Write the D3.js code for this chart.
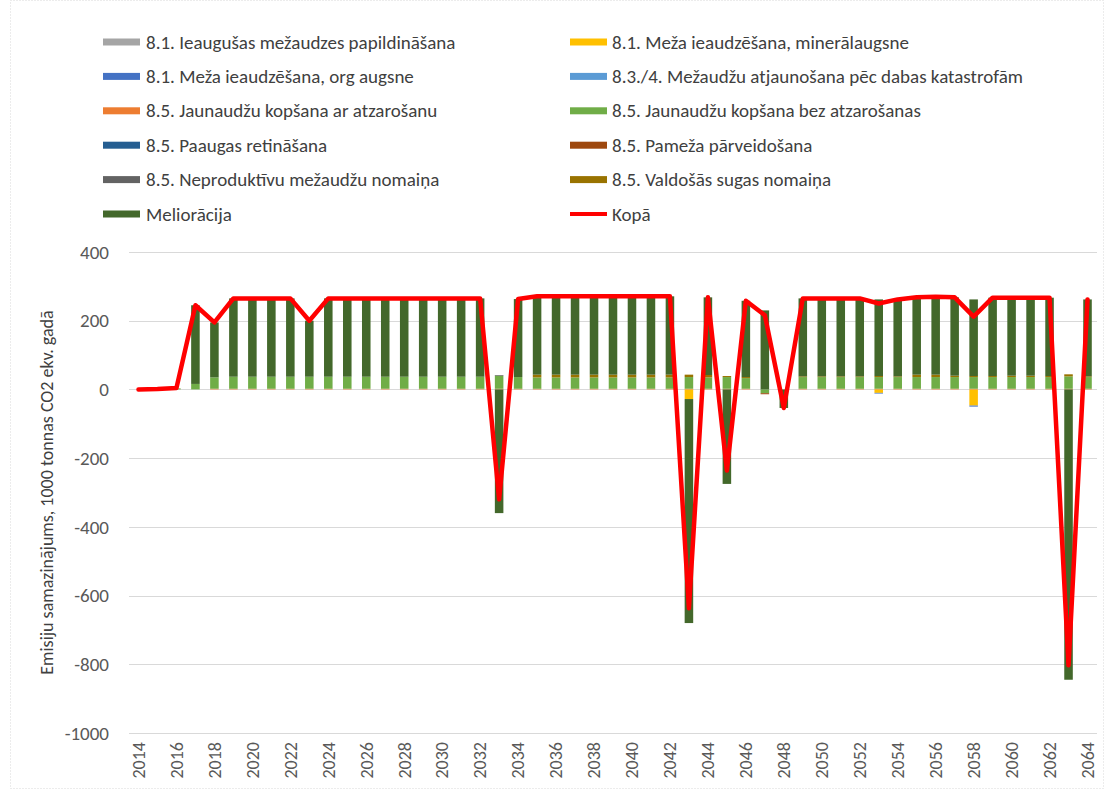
<!DOCTYPE html>
<html>
<head>
<meta charset="utf-8">
<script src="https://cdn.jsdelivr.net/npm/d3@7"></script>
<style>
  body { margin: 0; background: #fff; }
  text { font-family: Carlito, "Liberation Sans", Arial, sans-serif; }
</style>
</head>
<body>
<div id="chart"></div>
<script>
// years 2014..2064
const years = d3.range(2014, 2065).map(String);

const seriesNames = [
  '8.1. Ieaugušas mežaudzes papildināšana',
  '8.1. Meža ieaudzēšana, minerālaugsne',
  '8.1. Meža ieaudzēšana, org augsne',
  '8.3./4. Mežaudžu atjaunošana pēc dabas katastrofām',
  '8.5. Jaunaudžu kopšana ar atzarošanu',
  '8.5. Jaunaudžu kopšana bez atzarošanas',
  '8.5. Paaugas retināšana',
  '8.5. Pameža pārveidošana',
  '8.5. Neproduktīvu mežaudžu nomaiņa',
  '8.5. Valdošās sugas nomaiņa',
  'Meliorācija'
];
const seriesColors = ['#A5A5A5', '#FFC000', '#4472C4', '#5B9BD5', '#ED7D31', '#70AD47',
  '#255E91', '#9E480E', '#636363', '#997300', '#43682B'];
const lineName = 'Kopā';

//                 2014 ...                                                                       2064
const ieaugusas   = [0,0,0,0,0,0,0,0,0,0, 0,0,0,0,0,0,0,0,0,0, 0,0,0,0,0,0,0,0,0,0, 0,0,0,0,0,0,0,0,0,0, 0,0,0,0,0,0,0,0,0,0, 0];
const mineral     = [0,0,0,0,0,0,0,0,0,0, 0,0,0,0,0,0,0,0,0,0, 0,0,0,0,0,0,0,0,0,-28, 0,0,0,0,0,0,0,0,0,-10, 0,0,0,0,-47,0,0,0,0,0, 0];
const orgAugsne   = [0,0,0,0,0,0,0,0,0,0, 0,0,0,0,0,0,0,0,0,0, 0,0,0,0,0,0,0,0,0,0, 0,0,0,0,0,0,0,0,0,-2, 0,0,0,0,-3,0,0,0,0,0, 0];
const atjaunosana = [0,0,0,0,0,0,0,0,0,0, 0,0,0,0,0,0,0,0,0,0, 0,0,0,0,0,0,0,0,0,0, 0,0,0,0,0,0,0,0,0,0, 0,0,0,0,0,0,0,0,0,0, 0];
const arAtzar     = [0,0,0,0,2,2,2,2,2,2, 2,2,2,2,2,2,2,2,2,2, 2,2,2,2,2,2,2,2,2,2, 2,2,2,0,0,2,2,2,2,2, 2,2,2,2,2,2,2,2,2,2, 2];
const bezAtzar    = [0,1,3,16,33,35,35,35,35,35, 35,35,35,35,35,35,35,35,35,38, 34,33,33,33,33,33,33,33,33,34, 33,34,31,-11,0,34,34,34,34,34, 34,34,34,34,34,34,34,34,34,36, 34];
const paaugas     = [0,0,0,0,0,0,0,0,0,0, 0,0,0,0,0,0,0,0,0,0, 0,0,0,0,0,0,0,0,0,0, 0,0,0,0,0,0,0,0,0,0, 0,0,0,0,0,0,0,0,0,0, 0];
const pameza      = [0,0,0,0,0,0,0,0,0,0, 0,0,0,0,0,0,0,0,0,0, 0,0,0,0,0,0,0,0,0,0, 0,0,0,-3,0,0,0,0,0,0, 0,0,0,0,0,0,0,0,0,0, 0];
const neprod      = [0,0,0,0,0,0,0,0,0,0, 0,0,0,0,0,0,0,0,0,2, 0,0,0,0,0,0,0,0,0,0, 0,0,0,0,0,0,0,0,0,0, 0,0,0,0,0,0,0,0,0,0, 0];
const valdosas    = [0,0,0,0,0,0,0,0,0,0, 0,0,0,0,0,0,0,0,0,0, 0,8,8,8,8,8,8,8,8,7, 7,3,3,0,0,2,2,2,2,3, 2,7,7,4,3,3,4,4,3,6, 2];
const melioracija = [0,0,0,229,160,228,228,228,228,163, 228,228,228,228,228,228,228,228,228,-360, 227,228,228,228,228,228,228,228,228,-652, 226,-275,222,230,-54,227,227,227,227,223, 224,225,227,228,223,228,227,227,228,-845, 224];
const kopa        = [0,1,4,245,195,265,265,265,265,200, 265,265,265,265,265,265,265,265,265,-320, 263,271,271,271,271,271,271,271,271,-637, 268,-236,258,216,-54,265,265,265,265,250, 262,268,270,268,212,267,267,267,267,-803, 262];

const yTicks = [400, 200, 0, -200, -400, -600, -800, -1000];
const yTitle = 'Emisiju samazinājums, 1000 tonnas CO2 ekv. gadā';

const seriesValues = [ieaugusas, mineral, orgAugsne, atjaunosana, arAtzar, bezAtzar,
  paaugas, pameza, neprod, valdosas, melioracija];

const width = 1104, height = 789;
const svg = d3.select('#chart').append('svg')
  .attr('width', width)
  .attr('height', height);

// chart border
svg.append('rect')
  .attr('x', 10.5).attr('y', 0.5)
  .attr('width', width - 11).attr('height', height - 1)
  .attr('fill', 'none')
  .attr('stroke', '#d9d9d9')
  .attr('stroke-dasharray', '1,2');

const x = d3.scaleBand()
  .domain(years)
  .range([129, 1097])
  .paddingInner(0.55)
  .paddingOuter(0.275);

const y = d3.scaleLinear()
  .domain([-1000, 400])
  .range([733, 252]);

// gridlines
svg.append('g')
  .selectAll('line')
  .data(yTicks)
  .enter()
  .append('line')
  .attr('x1', 129).attr('x2', 1097)
  .attr('y1', d => Math.round(y(d)) + 0.5)
  .attr('y2', d => Math.round(y(d)) + 0.5)
  .attr('stroke', '#d9d9d9')
  .attr('stroke-width', 1);

// y tick labels
svg.append('g')
  .selectAll('text')
  .data(yTicks)
  .enter()
  .append('text')
  .attr('x', 109)
  .attr('y', d => y(d))
  .attr('dy', '0.35em')
  .attr('text-anchor', 'end')
  .style('font-size', '19px')
  .style('fill', '#595959')
  .text(d => d);

// x labels, every second year
svg.append('g')
  .selectAll('text')
  .data(years.filter((d, i) => i % 2 === 0))
  .enter()
  .append('text')
  .attr('transform', d => `translate(${x(d) + x.bandwidth() / 2},742) rotate(-90)`)
  .attr('dy', '0.35em')
  .attr('text-anchor', 'end')
  .style('font-size', '18px')
  .style('fill', '#595959')
  .text(d => d);

// y title
svg.append('text')
  .attr('transform', `translate(47,${(252 + 733) / 2}) rotate(-90)`)
  .attr('text-anchor', 'middle')
  .attr('dy', '0.35em')
  .style('font-size', '18px')
  .style('fill', '#404040')
  .text(yTitle);

// stacked bars
const table = years.map((yr, i) => {
  const row = { year: yr };
  seriesNames.forEach((n, k) => { row[n] = seriesValues[k][i]; });
  return row;
});

const stack = d3.stack()
  .keys(seriesNames)
  .offset(d3.stackOffsetDiverging);

const layers = stack(table);

svg.append('g')
  .selectAll('g')
  .data(layers)
  .enter()
  .append('g')
  .attr('fill', (d, i) => seriesColors[i])
  .selectAll('rect')
  .data(d => d.filter(p => p[1] - p[0] !== 0))
  .enter()
  .append('rect')
  .attr('x', d => x(d.data.year))
  .attr('width', x.bandwidth())
  .attr('y', d => y(Math.max(d[0], d[1])))
  .attr('height', d => Math.abs(y(d[0]) - y(d[1])));

// total line
const line = d3.line()
  .x((d, i) => x(years[i]) + x.bandwidth() / 2)
  .y(d => y(d));

svg.append('path')
  .datum(kopa)
  .attr('d', line)
  .attr('fill', 'none')
  .attr('stroke', '#FF0000')
  .attr('stroke-width', 4.5)
  .attr('stroke-linejoin', 'round')
  .attr('stroke-linecap', 'round');

// legend
const legendItems = seriesNames.map((n, i) => ({ name: n, color: seriesColors[i], type: 'bar' }));
legendItems.push({ name: lineName, color: '#FF0000', type: 'line' });

const legend = svg.append('g')
  .selectAll('g')
  .data(legendItems)
  .enter()
  .append('g')
  .attr('transform', (d, i) => `translate(${i % 2 === 0 ? 103 : 570},${42 + Math.floor(i / 2) * 34.4})`);

legend.filter(d => d.type === 'bar')
  .append('rect')
  .attr('x', 0).attr('y', -3.5)
  .attr('width', 37).attr('height', 7)
  .attr('fill', d => d.color);

legend.filter(d => d.type === 'line')
  .append('line')
  .attr('x1', 0).attr('x2', 37)
  .attr('y1', 0).attr('y2', 0)
  .attr('stroke', d => d.color)
  .attr('stroke-width', 4);

legend.append('text')
  .attr('x', (d, i) => i % 2 === 0 ? 43 : 42)
  .attr('dy', '0.35em')
  .style('font-size', '19px')
  .style('fill', '#404040')
  .text(d => d.name);
</script>
</body>
</html>
